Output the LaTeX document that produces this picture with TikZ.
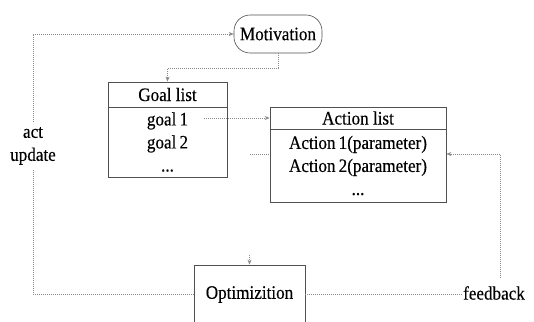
\documentclass[tikz,border=0pt]{standalone}
\usepackage{fontspec}
\setmainfont{Liberation Serif}
\newfontfamily\tnr[FakeStretch=0.9,FakeBold=0.3]{Liberation Serif}
\usetikzlibrary{arrows.meta}
\definecolor{conncol}{HTML}{8A8A8A}
\definecolor{boxcol}{HTML}{505050}
\begin{document}
\begin{tikzpicture}[x=1pt,y=-1pt,
  txt/.style={font=\tnr\fontsize{19}{23}\selectfont, text=black},
  boxnode/.style={txt, draw=boxcol, line width=0.8pt, inner sep=0pt, align=center},
  motnode/.style={txt, draw=boxcol, line width=0.6pt, rounded corners=16pt, inner sep=0pt,
    minimum width=88pt, minimum height=38pt},
  conn/.style={draw=conncol, line width=0.6pt, dash pattern=on 1pt off 1pt},
  arr/.style={-{Stealth[length=5pt,width=4pt]}}]
\clip (0,0) rectangle (534,321);
\fill[white] (0,0) rectangle (534,321);

% nodes
\node[motnode] (mot) at (278,34) {Motivation};
\node[boxnode, minimum width=119pt, minimum height=25pt] (gh) at (167.5,94.5) {Goal list};
\node[boxnode, minimum width=119pt, minimum height=70pt] (gb) at (167.5,142) {goal\,1\\goal\,2\\...};
\node[boxnode, minimum width=176pt, minimum height=22pt] (ah) at (358,118) {Action list};
\node[boxnode, minimum width=176pt, minimum height=73pt] (ab) at (358,165.5) {Action\,1(parameter)\\Action\,2(parameter)\\...};
\node[boxnode, minimum width=111pt, minimum height=59pt] (opt) at (249.5,294.5) {Optimizition};
\node[txt, inner sep=1pt] (fb) at (494,293) {feedback};
\node[txt, align=center, inner xsep=1pt, inner ysep=5pt] (act) at (33,146) {act\\update};

% helper coordinates
\coordinate (mg) at (278,68);
\coordinate (g1) at (204,118);
\coordinate (s1) at (250,154);
\coordinate (fbx) at (500,278);
\coordinate (fbt) at (500,154);
\coordinate (o1) at (249.5,255);

% connectors
\draw[conn] (opt.west) -| (act.south);
\draw[conn,arr] (act.north) |- (mot.west);
\draw[conn,arr] (mot.south) -- (mg) -| (gh.north);
\draw[conn,arr] (g1) -- (g1 -| ah.west);
\draw[conn] (s1) -- (s1 -| ab.west);
\draw[conn,arr] (fbx) -- (fbt) -- (fbt -| ab.east);
\draw[conn] (opt.east) -- (opt.east -| fb.west);
\draw[conn,arr] (o1) -- (opt.north);
\end{tikzpicture}
\end{document}
